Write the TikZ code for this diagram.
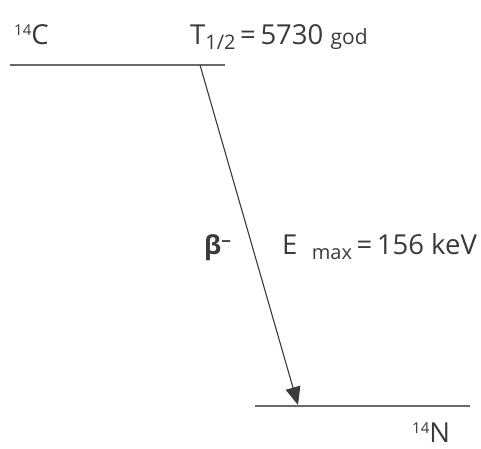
\documentclass[tikz,border=0pt]{standalone}
\usepackage{fontspec}
\setmainfont{Open Sans}
\usetikzlibrary{arrows.meta}
\definecolor{ink}{HTML}{3A3A3A}
\definecolor{lvl}{HTML}{6A6A6A}
\begin{document}
\begin{tikzpicture}[x=1pt,y=-1pt,
  level/.style={draw=lvl,line width=1.6pt},
  decay/.style={draw=ink,line width=1.1pt,-{Triangle[length=18pt,width=15pt]}},
  lbl/.style={inner sep=0pt,text=ink,font=\fontsize{27.5}{29}\selectfont}]
\useasboundingbox (0,0) rectangle (481,448);
\coordinate (c1) at (10,65);
\coordinate (c2) at (225,65);
\coordinate (n1) at (255,406);
\coordinate (n2) at (470,406);
\coordinate (s) at (200,65);
\coordinate (e) at (298,405);
\draw[level] (c1) -- (c2);
\draw[level] (n1) -- (n2);
\draw[decay] (s) -- (e);
\node[lbl,anchor=base west] (C) at (14,44) {\raisebox{9pt}{\fontsize{15}{16}\selectfont 14}C};
\node[lbl,anchor=base west] (T) at (190,44) {T\raisebox{-5pt}{\fontsize{20}{21}\selectfont 1/2}\,=\,5730 {\fontsize{21}{22}\selectfont god}};
\node[lbl,anchor=base west,font=\fontsize{26}{27}\selectfont\bfseries] (b) at (204,254) {β\raisebox{7pt}{\fontsize{17}{17}\selectfont −}};
\node[lbl,anchor=base west] (E) at (282,254) {E\ \ \raisebox{-5pt}{\fontsize{20}{21}\selectfont max}\,=\,156 keV};
\node[lbl,anchor=base west] (N) at (412,442) {\raisebox{9pt}{\fontsize{15}{16}\selectfont 14}N};
\end{tikzpicture}
\end{document}
